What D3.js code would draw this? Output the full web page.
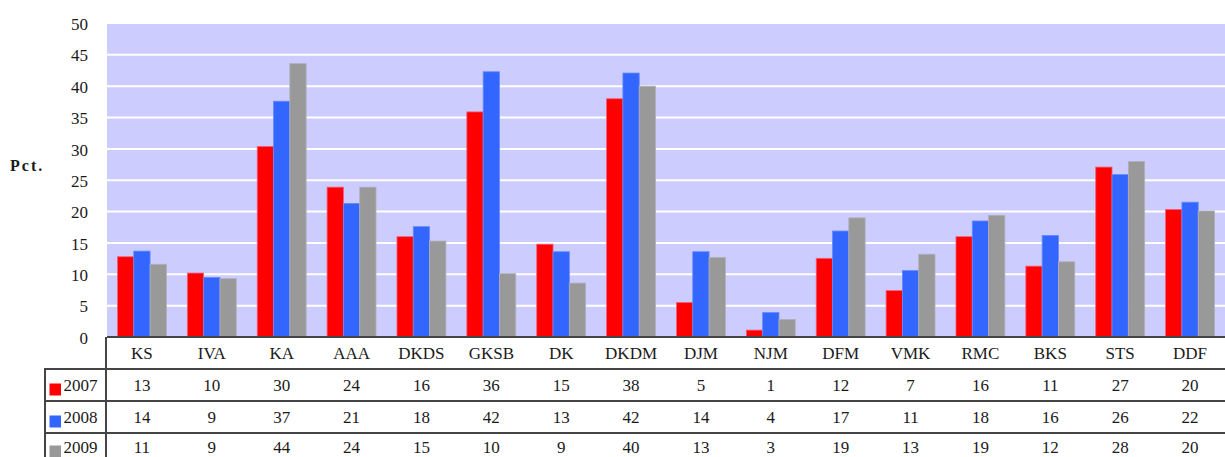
<!DOCTYPE html>
<html>
<head>
<meta charset="utf-8">
<script src="https://cdnjs.cloudflare.com/ajax/libs/d3/7.8.5/d3.min.js"></script>
<style>
  body { margin: 0; background: #fff; }
</style>
</head>
<body>
<div id="chart"></div>
<script>
// categories along the x axis
const categories = ['KS', 'IVA', 'KA', 'AAA', 'DKDS', 'GKSB', 'DK', 'DKDM', 'DJM', 'NJM', 'DFM', 'VMK', 'RMC', 'BKS', 'STS', 'DDF'];
const years = ['2007', '2008', '2009'];

// bar heights
const values2007 = [12.8, 10.2, 30.4, 23.9, 16.0, 35.9, 14.8, 38.0, 5.5, 1.1, 12.55, 7.4, 16.0, 11.3, 27.1, 20.35];
const values2008 = [13.7, 9.5, 37.6, 21.3, 17.6, 42.3, 13.6, 42.1, 13.6, 3.9, 16.9, 10.6, 18.5, 16.2, 25.9, 21.5];
const values2009 = [11.6, 9.3, 43.6, 23.9, 15.3, 10.1, 8.6, 40.0, 12.7, 2.8, 19.0, 13.2, 19.4, 12.0, 28.0, 20.1];

// numbers printed in the data table
const table2007 = [13, 10, 30, 24, 16, 36, 15, 38, 5, 1, 12, 7, 16, 11, 27, 20];
const table2008 = [14, 9, 37, 21, 18, 42, 13, 42, 14, 4, 17, 11, 18, 16, 26, 22];
const table2009 = [11, 9, 44, 24, 15, 10, 9, 40, 13, 3, 19, 13, 19, 12, 28, 20];

const yTicks = [0, 5, 10, 15, 20, 25, 30, 35, 40, 45, 50];

const colors = { '2007': '#ff0000', '2008': '#3366ff', '2009': '#999999' };
const edges = { '2007': '#f0607a', '2008': '#6688ff', '2009': '#b0b0b8' };

const series = [
  { year: '2007', values: values2007, table: table2007 },
  { year: '2008', values: values2008, table: table2008 },
  { year: '2009', values: values2009, table: table2009 },
];

const FONT = '"Liberation Serif", "DejaVu Serif", serif';
const width = 1225, height = 457;
const plot = { left: 107, right: 1225, top: 23.5, bottom: 337 };
const rowH = 32;

const svg = d3.select('#chart').append('svg')
  .attr('width', width)
  .attr('height', height)
  .style('font-family', FONT);

const x0 = d3.scaleBand()
  .domain(categories)
  .range([plot.left, plot.right])
  .paddingInner(0.3)
  .paddingOuter(0.15);

const x1 = d3.scaleBand()
  .domain(years)
  .range([0, x0.bandwidth()]);

const y = d3.scaleLinear()
  .domain([0, 50])
  .range([plot.bottom, plot.top]);

// plot background
svg.append('rect')
  .attr('x', plot.left)
  .attr('y', y(50) + 0.5)
  .attr('width', plot.right - plot.left)
  .attr('height', plot.bottom - y(50) - 0.5)
  .attr('fill', '#ccccff');

// gridlines
svg.append('g')
  .selectAll('line')
  .data(yTicks.filter(d => d > 0 && d < 50))
  .enter()
  .append('line')
  .attr('x1', plot.left)
  .attr('x2', plot.right)
  .attr('y1', d => y(d))
  .attr('y2', d => y(d))
  .attr('stroke', '#ffffff')
  .attr('stroke-width', 2);

// Y axis labels (no axis line)
const yAxis = svg.append('g')
  .attr('transform', `translate(${plot.left - 19},0)`)
  .call(d3.axisLeft(y).tickValues(yTicks).tickSize(0).tickPadding(0));
yAxis.attr('font-family', null).attr('font-size', null);
yAxis.select('.domain').remove();
yAxis.selectAll('text')
  .style('font-family', FONT)
  .style('font-size', '17px')
  .attr('fill', '#1a1a1a')
  .attr('dy', '0.36em');

// Pct. label
svg.append('text')
  .attr('x', 10)
  .attr('y', 171)
  .style('font-family', FONT)
  .style('font-size', '16px')
  .style('font-weight', 'bold')
  .style('letter-spacing', '2px')
  .attr('fill', '#1a1a1a')
  .text('Pct.');

// bars
svg.append('g')
  .selectAll('g')
  .data(series)
  .enter()
  .append('g')
  .selectAll('rect')
  .data(s => s.values.map((v, i) => ({ year: s.year, cat: categories[i], value: v })))
  .enter()
  .append('rect')
  .attr('x', d => x0(d.cat) + x1(d.year))
  .attr('y', d => y(d.value))
  .attr('width', x1.bandwidth())
  .attr('height', d => plot.bottom - y(d.value))
  .attr('fill', d => colors[d.year])
  .attr('stroke', d => edges[d.year])
  .attr('stroke-width', 0.8);

// data table
const table = svg.append('g');
const lineColor = '#454545';

// top border / axis line
table.append('line')
  .attr('x1', plot.left).attr('x2', plot.right)
  .attr('y1', plot.bottom).attr('y2', plot.bottom)
  .attr('stroke', lineColor).attr('stroke-width', 2);

// row separators
[1, 2, 3].forEach(r => {
  table.append('line')
    .attr('x1', 44).attr('x2', plot.right)
    .attr('y1', plot.bottom + r * rowH).attr('y2', plot.bottom + r * rowH)
    .attr('stroke', lineColor).attr('stroke-width', 2);
});

// vertical lines
table.append('line')
  .attr('x1', plot.left - 1).attr('x2', plot.left - 1)
  .attr('y1', plot.bottom).attr('y2', height)
  .attr('stroke', lineColor).attr('stroke-width', 2);
table.append('line')
  .attr('x1', 45).attr('x2', 45)
  .attr('y1', plot.bottom + rowH).attr('y2', height)
  .attr('stroke', lineColor).attr('stroke-width', 2);

// category header row
table.selectAll('.cat')
  .data(categories)
  .enter()
  .append('text')
  .attr('class', 'cat')
  .attr('x', d => x0(d) + x0.bandwidth() / 2)
  .attr('y', plot.bottom + 21.5)
  .attr('text-anchor', 'middle')
  .style('font-family', FONT)
  .style('font-size', '17px')
  .attr('fill', '#1a1a1a')
  .text(d => d);

// value rows
series.forEach((s, r) => {
  const rowTop = plot.bottom + (r + 1) * rowH;
  const baseY = Math.min(rowTop + 22, height - 4); // last row sits at the page edge

  table.append('rect')
    .attr('x', 49.5)
    .attr('y', baseY - 7.5)
    .attr('width', 11.5)
    .attr('height', 12)
    .attr('fill', colors[s.year]);

  table.append('text')
    .attr('x', 63.5)
    .attr('y', baseY)
    .style('font-family', FONT)
    .style('font-size', '17px')
    .attr('fill', '#1a1a1a')
    .text(s.year);

  table.selectAll('.v' + s.year)
    .data(s.table)
    .enter()
    .append('text')
    .attr('x', (d, i) => x0(categories[i]) + x0.bandwidth() / 2)
    .attr('y', baseY)
    .attr('text-anchor', 'middle')
    .style('font-family', FONT)
    .style('font-size', '17px')
    .attr('fill', '#1a1a1a')
    .text(d => d);
});
</script>
</body>
</html>
